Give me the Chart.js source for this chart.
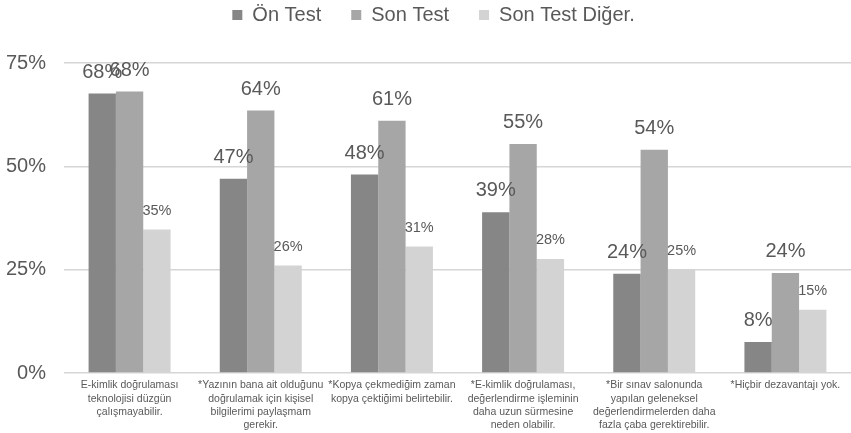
<!DOCTYPE html>
<html>
<head>
<meta charset="utf-8">
<script src="https://cdn.jsdelivr.net/npm/chart.js@4/dist/chart.umd.min.js"></script>
<style>
    html, body { margin: 0; padding: 0; background: #fff; }
    #wrap { width: 851px; height: 433px; }
</style>
</head>
<body>
<div id="wrap"><canvas id="chart"></canvas></div>
<script>
const categories = [
    ['E-kimlik doğrulaması', 'teknolojisi düzgün', 'çalışmayabilir.'],
    ['*Yazının bana ait olduğunu', 'doğrulamak için kişisel', 'bilgilerimi paylaşmam', 'gerekir.'],
    ['*Kopya çekmediğim zaman', 'kopya çektiğimi belirtebilir.'],
    ['*E-kimlik doğrulaması,', 'değerlendirme işleminin', 'daha uzun sürmesine', 'neden olabilir.'],
    ['*Bir sınav salonunda', 'yapılan geleneksel', 'değerlendirmelerden daha', 'fazla çaba gerektirebilir.'],
    ['*Hiçbir dezavantajı yok.']
];
const onTest = [67.6, 47.0, 48.0, 38.9, 24.0, 7.5];
const sonTest = [68.1, 63.5, 61.0, 55.4, 54.0, 24.2];
const sonTestDiger = [34.7, 26.0, 30.6, 27.6, 25.0, 15.3];
const yTicks = [0, 25, 50, 75];

const textColor = '#595959';
const fontFamily = "'Liberation Sans', Arial, sans-serif";

// legend takes all the space above the plot, drawn near the top
const legendGap = {
    id: 'legendGap',
    beforeInit(chart) {
        const fit = chart.legend.fit;
        chart.legend.fit = function() {
            fit.bind(chart.legend)();
            this.height = 63;
        };
    },
    afterLayout(chart) {
        chart.legend.top = -25;
        chart.legend.left += 8;
        chart.legend.right += 8;
    }
};

// value labels above each bar
const barLabels = {
    id: 'barLabels',
    afterDatasetsDraw(chart) {
        const ctx = chart.ctx;
        ctx.save();
        ctx.fillStyle = textColor;
        ctx.textAlign = 'center';
        ctx.textBaseline = 'alphabetic';
        chart.data.datasets.forEach((ds, i) => {
            const meta = chart.getDatasetMeta(i);
            const small = i === 2;
            ctx.font = (small ? 14.5 : 20) + 'px ' + fontFamily;
            meta.data.forEach((bar, j) => {
                ctx.fillText(Math.round(ds.data[j]) + '%', bar.x, bar.y - (small ? 15 : 16));
            });
        });
        ctx.restore();
    }
};

const ctx = document.getElementById('chart').getContext('2d');
new Chart(ctx, {
    type: 'bar',
    data: {
        labels: categories,
        datasets: [{
            label: 'Ön Test',
            data: onTest,
            backgroundColor: '#868686'
        }, {
            label: 'Son Test',
            data: sonTest,
            backgroundColor: '#a6a6a6'
        }, {
            label: 'Son Test Diğer.',
            data: sonTestDiger,
            backgroundColor: '#d3d3d3'
        }]
    },
    options: {
        responsive: true,
        maintainAspectRatio: false,
        animation: false,
        layout: { padding: 0 },
        datasets: {
            bar: {
                categoryPercentage: 0.625,
                barPercentage: 1.0
            }
        },
        scales: {
            x: {
                grid: { display: false, drawTicks: false },
                border: { display: false },
                ticks: {
                    autoSkip: false,
                    maxRotation: 0,
                    minRotation: 0,
                    padding: 6,
                    color: textColor,
                    font: { family: fontFamily, size: 10.5, lineHeight: 1.25 }
                },
                afterFit: s => { s.height = 60; }
            },
            y: {
                min: 0,
                max: 75,
                afterBuildTicks: s => { s.ticks = yTicks.map(v => ({ value: v })); },
                grid: { color: '#d6d6d6', lineWidth: 1.5, drawTicks: false },
                border: { display: false },
                ticks: {
                    padding: 18,
                    color: textColor,
                    font: { family: fontFamily, size: 20 },
                    callback: v => v + '%'
                },
                afterFit: s => { s.width = 64; }
            }
        },
        plugins: {
            legend: {
                position: 'top',
                labels: {
                    boxWidth: 10,
                    boxHeight: 10,
                    padding: 30,
                    color: textColor,
                    font: { family: fontFamily, size: 20 }
                }
            },
            tooltip: { enabled: false }
        }
    },
    plugins: [legendGap, barLabels]
});
</script>
</body>
</html>
